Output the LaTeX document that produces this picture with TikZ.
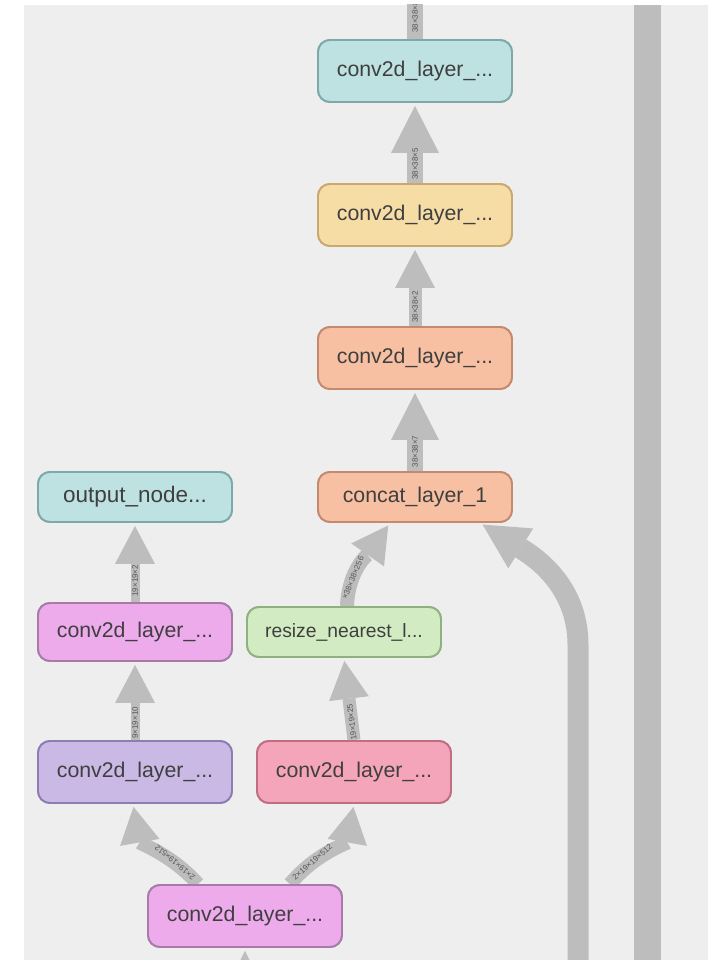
\documentclass[tikz,border=0pt]{standalone}
\usepackage{fontspec}
\setmainfont{Liberation Sans}
\usetikzlibrary{arrows.meta}
\definecolor{panel}{HTML}{EEEEEE}
\definecolor{edgec}{HTML}{BDBDBD}
\definecolor{txtc}{HTML}{3F3F3F}
\definecolor{labc}{HTML}{555555}
\definecolor{tealf}{HTML}{BEE1E2}\definecolor{teald}{HTML}{7FA8A9}
\definecolor{yelf}{HTML}{F6DDA6}\definecolor{yeld}{HTML}{C9A970}
\definecolor{salf}{HTML}{F7C0A3}\definecolor{sald}{HTML}{C48A70}
\definecolor{magf}{HTML}{EDABEC}\definecolor{magd}{HTML}{A67BA8}
\definecolor{purf}{HTML}{C9B9E4}\definecolor{purd}{HTML}{8E7DB5}
\definecolor{redf}{HTML}{F5A5BA}\definecolor{redd}{HTML}{C16E85}
\definecolor{grnf}{HTML}{D2EBC3}\definecolor{grnd}{HTML}{8DB27E}
\begin{document}
\begin{tikzpicture}[x=1pt,y=-1pt,
  lay/.style={rounded corners=12pt, minimum width=194pt, minimum height=62pt,
    line width=1.9pt, text=txtc, inner sep=0pt, font=\fontsize{21.3}{24}\selectfont},
  laysmall/.style={lay, minimum height=50pt},
  bigflow/.style={draw=edgec, line width=16pt, shorten >=3pt,
    -{Triangle[width=48pt,length=47pt,line width=0pt]}},
  midflow/.style={draw=edgec, line width=13pt, shorten >=3pt,
    -{Triangle[width=40pt,length=38pt,line width=0pt]}},
  curveflow/.style={draw=edgec, line width=14pt, shorten >=3pt,
    -{Triangle[width=40pt,length=36pt,line width=0pt]}},
  smallflow/.style={draw=edgec, line width=9pt, shorten >=3pt,
    -{Triangle[width=40pt,length=38pt,line width=0pt]}},
  hugeflow/.style={draw=edgec, line width=21pt, shorten >=3pt,
    -{Triangle[width=47pt,length=45pt,line width=0pt]}},
  shaft/.style={draw=edgec, line width=16pt},
  elab/.style={font=\fontsize{8}{8}\selectfont, text=labc, sloped, allow upside down, inner sep=0pt}
]
\useasboundingbox (0,0) rectangle (716,960);
\fill[white] (0,0) rectangle (716,960);
\fill[panel] (24,5) rectangle (708,960);
\clip (24,5) rectangle (708,960);
\fill[edgec] (634,5) rectangle (661,960);

% nodes
\node[lay, fill=tealf, draw=teald] (c5) at (415,71) {conv2d\_layer\_...};
\node[lay, fill=yelf, draw=yeld] (c4) at (415,215) {conv2d\_layer\_...};
\node[lay, fill=salf, draw=sald] (c3) at (415,358) {conv2d\_layer\_...};
\node[laysmall, fill=salf, draw=sald] (cat) at (415,497) {concat\_layer\_1};
\node[laysmall, fill=tealf, draw=teald, font=\fontsize{22.5}{24}\selectfont] (out) at (135,497) {output\_node...};
\node[lay, fill=magf, draw=magd, minimum height=58pt] (cm) at (135,632) {conv2d\_layer\_...};
\node[laysmall, fill=grnf, draw=grnd, font=\fontsize{19.3}{22}\selectfont] (rs) at (344,632) {resize\_nearest\_l...};
\node[lay, fill=purf, draw=purd] (cp) at (135,772) {conv2d\_layer\_...};
\node[lay, fill=redf, draw=redd] (cr) at (354,772) {conv2d\_layer\_...};
\node[lay, fill=magf, draw=magd] (bot) at (245,916) {conv2d\_layer\_...};

\coordinate (topout) at (415,-40);
\coordinate (botin) at (245,1010);
\coordinate (rin) at (578,1000);
\coordinate (rbend) at (578,645);

% connectors
\draw[shaft] (c5.north) -- (topout) node[elab, pos=0.28] {38×38×8};
\draw[bigflow] (c4.north) -- (c5.south) node[elab, pos=0.24] {38×38×5};
\draw[midflow] (c3.north) -- (c4.south) node[elab, pos=0.24] {38×38×2};
\draw[bigflow] (cat.north) -- (c3.south) node[elab, pos=0.24] {38×38×7};
\draw[smallflow] (cm.north) -- (out.south) node[elab, pos=0.27] {19×19×2};
\draw[smallflow] (cp.north) -- (cm.south) node[elab, pos=0.22] {9×19×10};
\draw[midflow] (cr.north) -- (rs.south) node[elab, pos=0.22] {19×19×25};
\draw[curveflow] ([xshift=3pt]rs.north) to[out=88,in=-125]
  node[elab, pos=0.3] {×38×38×256} ([xshift=-25pt]cat.south);
\draw[curveflow] ([xshift=-47pt]bot.north) to[out=132,in=-80]
  node[elab, pos=0.28] {2×19×19×512} ([xshift=-2pt]cp.south);
\draw[curveflow] ([xshift=45pt]bot.north) to[out=50,in=-100]
  node[elab, pos=0.28] {2×19×19×512} (cr.south);
\draw[bigflow] (botin) -- (bot.south);
\draw[hugeflow] (rin) -- (rbend) to[out=90,in=-32] ([xshift=65pt]cat.south);

% redraw nodes on top
\node[lay, fill=tealf, draw=teald] at (c5) {conv2d\_layer\_...};
\node[lay, fill=yelf, draw=yeld] at (c4) {conv2d\_layer\_...};
\node[lay, fill=salf, draw=sald] at (c3) {conv2d\_layer\_...};
\node[laysmall, fill=salf, draw=sald] at (cat) {concat\_layer\_1};
\node[laysmall, fill=tealf, draw=teald, font=\fontsize{22.5}{24}\selectfont] at (out) {output\_node...};
\node[lay, fill=magf, draw=magd, minimum height=58pt] at (cm) {conv2d\_layer\_...};
\node[laysmall, fill=grnf, draw=grnd, font=\fontsize{19.3}{22}\selectfont] at (rs) {resize\_nearest\_l...};
\node[lay, fill=purf, draw=purd] at (cp) {conv2d\_layer\_...};
\node[lay, fill=redf, draw=redd] at (cr) {conv2d\_layer\_...};
\node[lay, fill=magf, draw=magd] at (bot) {conv2d\_layer\_...};
\end{tikzpicture}
\end{document}
